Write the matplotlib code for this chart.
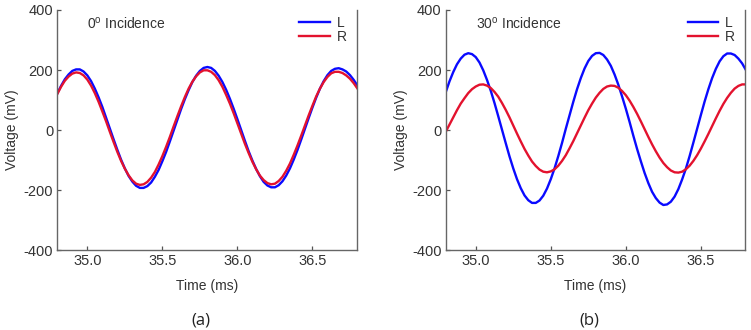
#%% binaural recordings, 0 and 30 degree incidence
import numpy as np
import matplotlib
matplotlib.use('Agg')
import matplotlib.pyplot as plt

plt.rcParams['font.family'] = ['Liberation Sans', 'DejaVu Sans']
plt.rcParams['mathtext.fontset'] = 'custom'
plt.rcParams['mathtext.rm'] = 'Liberation Sans'
plt.rcParams['axes.unicode_minus'] = False

# time axis (ms), read every 0.025 ms
t = np.round(np.arange(34.80, 36.8001, 0.025), 3)

# 0 deg incidence (mV)
l_0 = [122, 147, 169, 185, 197, 202, 202, 195, 182, 163, 138, 109, 77, 41, 5,
       -31, -66, -99, -128, -153, -172, -186, -193, -193, -187, -175, -156,
       -133, -104, -73, -38, -2, 34, 70, 103, 133, 160, 181, 197, 207, 210,
       207, 197, 181, 160, 134, 104, 71, 36, 0, -36, -71, -102, -130, -154,
       -173, -185, -191, -191, -184, -171, -152, -128, -99, -67, -32, 4, 40,
       75, 108, 138, 163, 183, 197, 204, 206, 202, 195, 183, 167, 148]
r_0 = [120, 144, 164, 178, 188, 192, 190, 182, 168, 148, 123, 94, 62, 29, -6,
       -40, -73, -103, -129, -151, -168, -179, -183, -181, -173, -159, -140,
       -115, -87, -56, -23, 12, 46, 79, 110, 138, 161, 179, 192, 199, 199,
       194, 183, 166, 144, 117, 88, 56, 22, -12, -46, -77, -106, -131, -152,
       -167, -177, -181, -179, -170, -156, -136, -112, -83, -52, -19, 15, 49,
       81, 112, 138, 160, 177, 189, 194, 194, 190, 182, 171, 156, 138]

# 30 deg incidence (mV)
l_30 = [126, 162, 193, 219, 238, 251, 256, 253, 243, 225, 199, 167, 131, 90,
        46, 1, -44, -88, -128, -164, -194, -218, -234, -243, -243, -235, -219,
        -195, -164, -128, -87, -43, 4, 49, 94, 136, 173, 205, 230, 247, 256,
        257, 250, 235, 214, 185, 151, 112, 71, 27, -19, -63, -104, -143, -177,
        -206, -227, -242, -250, -248, -239, -222, -197, -165, -129, -87, -42,
        4, 50, 95, 136, 173, 204, 229, 246, 255, 255, 250, 238, 222, 200]
r_30 = [-6, 18, 42, 66, 88, 106, 123, 136, 145, 151, 152, 148, 140, 127, 111,
        90, 67, 42, 15, -12, -38, -63, -85, -105, -120, -132, -139, -141, -138,
        -131, -119, -103, -84, -61, -37, -11, 15, 41, 66, 88, 108, 124, 137,
        145, 148, 147, 141, 130, 116, 98, 77, 54, 29, 3, -23, -48, -71, -92,
        -110, -124, -135, -141, -142, -139, -131, -119, -103, -84, -62, -38,
        -13, 13, 39, 64, 87, 107, 124, 138, 147, 152, 152]

titles = ['0$^\\mathregular{o}$ Incidence', '30$^\\mathregular{o}$ Incidence']
panels = ['(a)', '(b)']
data = [(l_0, r_0), (l_30, r_30)]

blue = '#0a0aff'
red = '#e3122e'
grey = '#333333'

fig = plt.figure(figsize=(7.51, 3.30), dpi=100)
lefts = [0.0763, 0.5935]

for i in range(2):
    ax = fig.add_axes([lefts[i], 0.2424, 0.3987, 0.7273])
    ax.plot(t, data[i][0], color=blue, lw=1.7, label='L')
    ax.plot(t, data[i][1], color=red, lw=1.7, label='R')
    ax.set_xlim(34.8, 36.795)
    ax.set_ylim(-400, 400)
    ax.set_xticks([35.0, 35.5, 36.0, 36.5])
    ax.set_xticklabels(['35.0', '35.5', '36.0', '36.5'])
    ax.set_yticks([-400, -200, 0, 200, 400])
    ax.tick_params(direction='in', length=3, width=0.9, colors='#555555',
                   labelcolor=grey, labelsize=10.5, pad=3)
    for s in ['left', 'bottom', 'right']:
        ax.spines[s].set_color('#666666')
        ax.spines[s].set_linewidth(1.0)
    ax.spines['top'].set_visible(False)
    ax.set_xlabel('Time (ms)', fontsize=10, color=grey, labelpad=8)
    ax.set_ylabel('Voltage (mV)', fontsize=10, color=grey, labelpad=3)
    ax.text(0.1, 0.945, titles[i], transform=ax.transAxes, fontsize=10,
            color=grey, va='center')
    ax.legend(loc='upper right', frameon=False, fontsize=10, handlelength=2.2,
              handletextpad=0.5, labelspacing=0.05, borderaxespad=0.0,
              labelcolor=grey, bbox_to_anchor=(0.985, 1.0))
    ax.text(0.48, -0.295, panels[i], transform=ax.transAxes, fontsize=12,
            color='#222222', ha='center', va='center', family='Open Sans')

plt.savefig('out.png', dpi=100)
